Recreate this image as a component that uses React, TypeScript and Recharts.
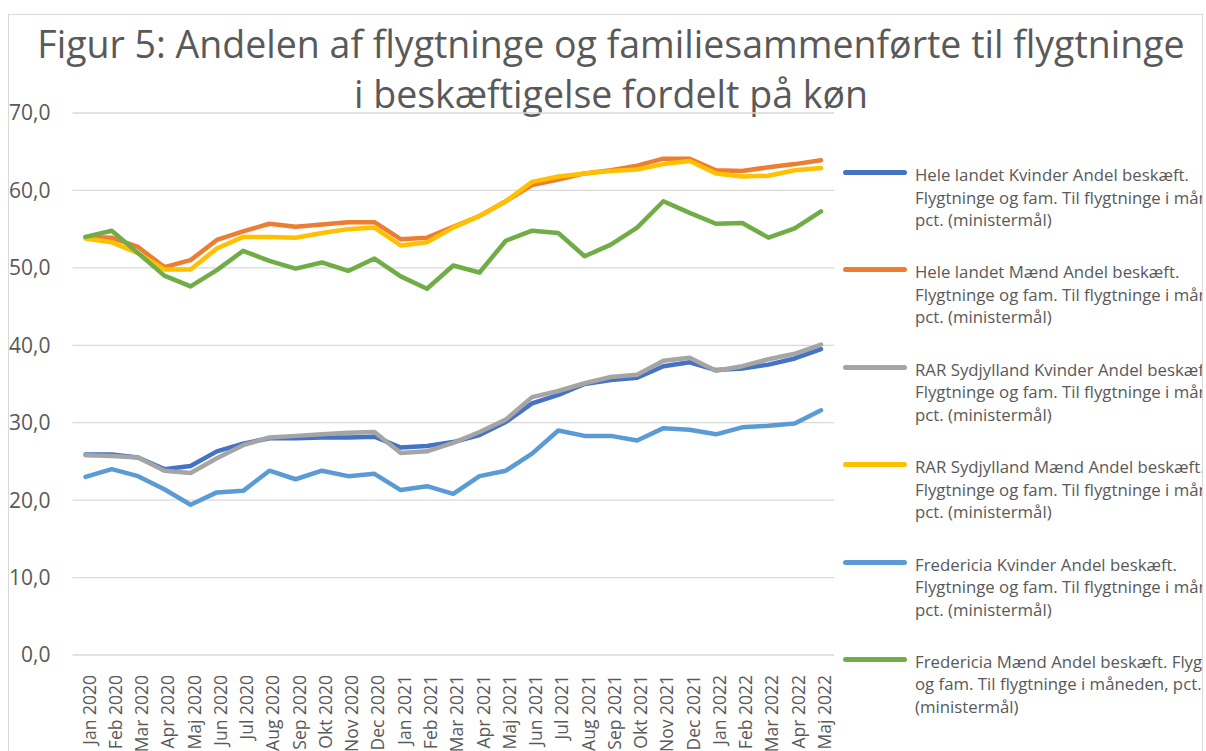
import React from 'react';
import { LineChart, Line, XAxis, YAxis, CartesianGrid } from 'recharts';

const months = [
  'Jan 2020', 'Feb 2020', 'Mar 2020', 'Apr 2020', 'Maj 2020', 'Jun 2020', 'Jul 2020', 'Aug 2020',
  'Sep 2020', 'Okt 2020', 'Nov 2020', 'Dec 2020', 'Jan 2021', 'Feb 2021', 'Mar 2021', 'Apr 2021',
  'Maj 2021', 'Jun 2021', 'Jul 2021', 'Aug 2021', 'Sep 2021', 'Okt 2021', 'Nov 2021', 'Dec 2021',
  'Jan 2022', 'Feb 2022', 'Mar 2022', 'Apr 2022', 'Maj 2022',
];

const heleKvinder = [25.9, 25.9, 25.5, 24.0, 24.4, 26.3, 27.3, 28.0, 28.0, 28.1, 28.1, 28.2, 26.8, 27.0, 27.5, 28.4, 30.1, 32.5, 33.6, 35.0, 35.5, 35.8, 37.3, 37.8, 36.8, 37.0, 37.5, 38.3, 39.5];
const heleMaend = [54.0, 53.9, 52.7, 50.1, 51.0, 53.6, 54.7, 55.7, 55.3, 55.6, 55.9, 55.9, 53.7, 53.9, 55.3, 56.7, 58.6, 60.7, 61.4, 62.2, 62.6, 63.2, 64.1, 64.1, 62.6, 62.5, 63.0, 63.4, 63.9];
const rarKvinder = [25.8, 25.7, 25.5, 23.8, 23.5, 25.4, 27.1, 28.1, 28.3, 28.5, 28.7, 28.8, 26.1, 26.3, 27.4, 28.8, 30.4, 33.3, 34.1, 35.1, 35.9, 36.2, 38.0, 38.4, 36.7, 37.3, 38.2, 38.9, 40.1];
const rarMaend = [53.8, 53.3, 51.9, 49.8, 49.8, 52.5, 54.0, 54.0, 53.9, 54.5, 55.0, 55.2, 52.9, 53.3, 55.2, 56.7, 58.6, 61.1, 61.8, 62.2, 62.5, 62.7, 63.4, 63.8, 62.2, 61.8, 61.9, 62.6, 62.9];
const fredKvinder = [23.0, 24.0, 23.1, 21.4, 19.4, 21.0, 21.2, 23.8, 22.7, 23.8, 23.1, 23.4, 21.3, 21.8, 20.8, 23.1, 23.8, 26.0, 29.0, 28.3, 28.3, 27.7, 29.3, 29.1, 28.5, 29.4, 29.6, 29.9, 31.6];
const fredMaend = [54.0, 54.8, 51.9, 49.0, 47.6, 49.7, 52.2, 50.9, 49.9, 50.7, 49.6, 51.2, 48.9, 47.3, 50.3, 49.4, 53.5, 54.8, 54.5, 51.5, 53.0, 55.2, 58.6, 57.1, 55.7, 55.8, 53.9, 55.1, 57.3];

const yTicks = [0, 10, 20, 30, 40, 50, 60, 70];

const titleLines = [
  'Figur 5: Andelen af flygtninge og familiesammenførte til flygtninge',
  'i beskæftigelse fordelt på køn',
];

const seriesNames = [
  'Hele landet Kvinder Andel beskæft. Flygtninge og fam. Til flygtninge i måneden, pct. (ministermål)',
  'Hele landet Mænd Andel beskæft. Flygtninge og fam. Til flygtninge i måneden, pct. (ministermål)',
  'RAR Sydjylland Kvinder Andel beskæft. Flygtninge og fam. Til flygtninge i måneden, pct. (ministermål)',
  'RAR Sydjylland Mænd Andel beskæft. Flygtninge og fam. Til flygtninge i måneden, pct. (ministermål)',
  'Fredericia Kvinder Andel beskæft. Flygtninge og fam. Til flygtninge i måneden, pct. (ministermål)',
  'Fredericia Mænd Andel beskæft. Flygtninge og fam. Til flygtninge i måneden, pct. (ministermål)',
];

const legendLines = [
  ['Hele landet Kvinder Andel beskæft.', 'Flygtninge og fam. Til flygtninge i måneden,', 'pct. (ministermål)'],
  ['Hele landet Mænd Andel beskæft.', 'Flygtninge og fam. Til flygtninge i måneden,', 'pct. (ministermål)'],
  ['RAR Sydjylland Kvinder Andel beskæft.', 'Flygtninge og fam. Til flygtninge i måneden,', 'pct. (ministermål)'],
  ['RAR Sydjylland Mænd Andel beskæft.', 'Flygtninge og fam. Til flygtninge i måneden,', 'pct. (ministermål)'],
  ['Fredericia Kvinder Andel beskæft.', 'Flygtninge og fam. Til flygtninge i måneden,', 'pct. (ministermål)'],
  ['Fredericia Mænd Andel beskæft. Flygtninge', 'og fam. Til flygtninge i måneden, pct.', '(ministermål)'],
];

const colors = ['#4472C4', '#ED7D31', '#A5A5A5', '#FFC000', '#5B9BD5', '#70AD47'];
const seriesValues = [heleKvinder, heleMaend, rarKvinder, rarMaend, fredKvinder, fredMaend];
const keys = ['s0', 's1', 's2', 's3', 's4', 's5'];

const data = months.map((m, i) => {
  const row: Record<string, string | number> = { month: m };
  keys.forEach((k, j) => { row[k] = seriesValues[j][i]; });
  return row;
});

const FONT = '"Open Sans", sans-serif';
const TEXT = '#595959';

const XTick = (props: any) => {
  const { x, y, payload } = props;
  return (
    <g transform={`translate(${x},${y})`}>
      <text
        transform="rotate(-90)"
        textAnchor="end"
        dy={10}
        fill={TEXT}
        fontSize={17.5}
        fontFamily={FONT}
      >
        {payload.value}
      </text>
    </g>
  );
};

function ChartLegend() {
  return (
    <div
      style={{
        position: 'absolute', left: 843, top: 164, width: 1202 - 843, height: 600,
        overflow: 'hidden', fontFamily: FONT, fontSize: 16.8, color: TEXT,
      }}
    >
      {seriesNames.map((name, i) => (
        <div key={i} title={name} style={{ position: 'relative', height: 97.4, whiteSpace: 'nowrap' }}>
          <div
            style={{
              position: 'absolute', left: 0, top: 6, width: 64, height: 5,
              borderRadius: 3, background: colors[i],
            }}
          />
          <div style={{ position: 'absolute', left: 72, top: 0, lineHeight: '22.5px' }}>
            {legendLines[i].map((l, k) => (<div key={k}>{l}</div>))}
          </div>
        </div>
      ))}
    </div>
  );
}

export default function App() {
  return (
    <div style={{ position: 'absolute', left: 0, top: 0, width: 1206, height: 751, overflow: 'hidden', background: '#fff' }}>
      <div
        style={{
          position: 'absolute', left: 8, top: 14, width: 1195, height: 800,
          border: '1px solid #d9d9d9', boxSizing: 'border-box',
        }}
      />
      <div
        style={{
          position: 'absolute', left: 8, top: 18.5, width: 1206, textAlign: 'center',
          fontFamily: FONT, fontSize: 37.5, color: TEXT, lineHeight: '50px', whiteSpace: 'nowrap',
        }}
      >
        {titleLines.map((t, i) => (<div key={i}>{t}</div>))}
      </div>
      <div style={{ position: 'absolute', left: 0, top: 0 }}>
        <LineChart
          width={1206}
          height={751}
          data={data}
          margin={{ top: 113, right: 372, bottom: 0, left: 0 }}
        >
          <CartesianGrid horizontal vertical={false} stroke="#d9d9d9" strokeWidth={1.3} />
          <XAxis
            dataKey="month"
            interval={0}
            axisLine={false}
            tickLine={false}
            tickMargin={14}
            height={96}
            padding={{ left: 13, right: 13 }}
            tick={<XTick />}
          />
          <YAxis
            domain={[0, 70]}
            ticks={yTicks}
            width={72.5}
            axisLine={false}
            tickLine={false}
            tickSize={0}
            tickMargin={22}
            tickFormatter={(v: number) => v.toFixed(1).replace('.', ',')}
            tick={{ fill: TEXT, fontSize: 21, fontFamily: FONT }}
          />
          {keys.map((k, j) => (
            <Line
              key={k}
              type="linear"
              dataKey={k}
              name={seriesNames[j]}
              stroke={colors[j]}
              strokeWidth={4.5}
              strokeLinejoin="round"
              strokeLinecap="round"
              dot={false}
              activeDot={false}
              isAnimationActive={false}
            />
          ))}
        </LineChart>
      </div>
      <ChartLegend />
    </div>
  );
}
